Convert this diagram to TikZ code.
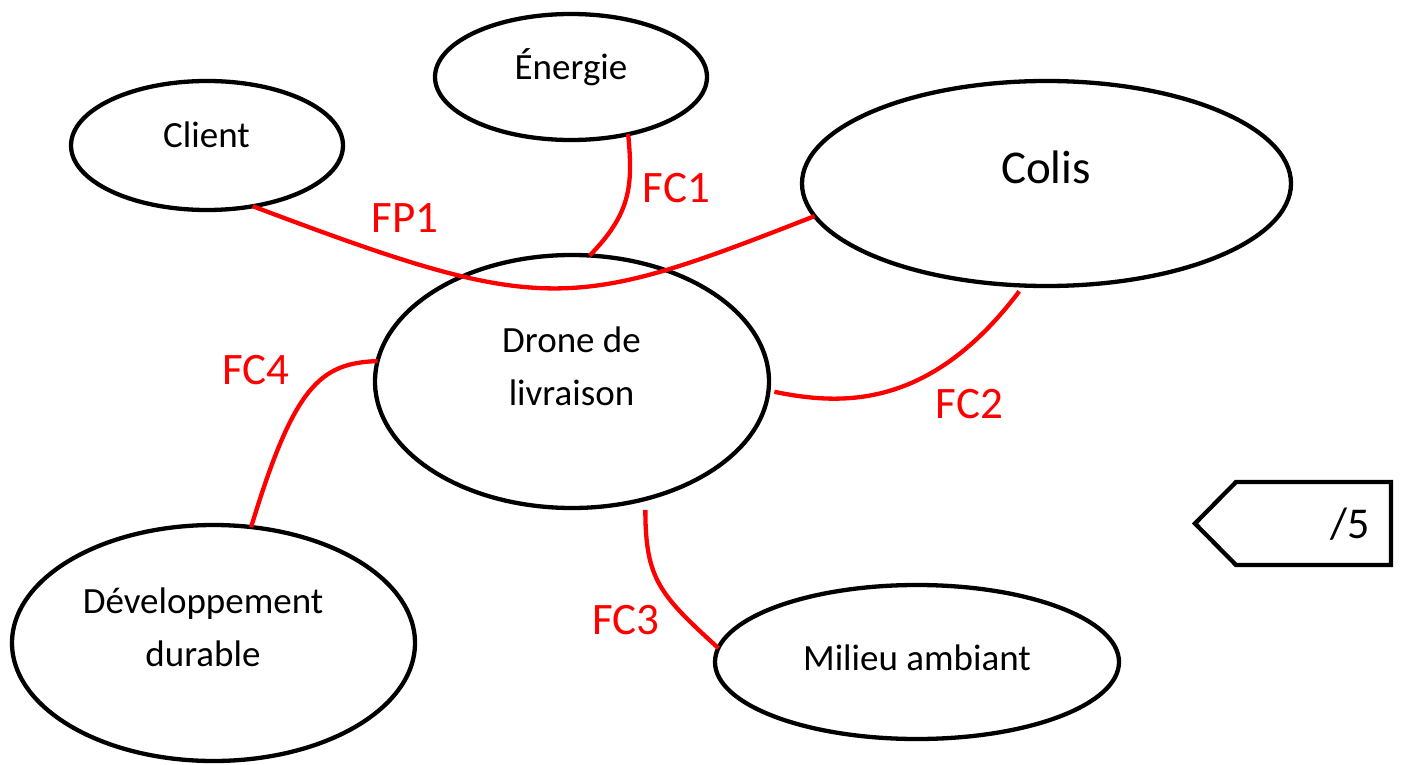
\documentclass[tikz,border=0pt]{standalone}
\usepackage{fontspec}
\setmainfont{Carlito}
\usetikzlibrary{shapes.geometric}
\begin{document}
\begin{tikzpicture}[x=1pt,y=-1pt,
  ell/.style={ellipse, draw=black, line width=4.3pt, fill=white, inner sep=0pt, outer sep=0pt},
  fline/.style={draw=red, line width=4.3pt},
  lbl/.style={font=\fontsize{37}{53}\selectfont, inner sep=0pt, anchor=base},
  flbl/.style={font=\fontsize{45}{54}\selectfont, text=red, inner sep=0pt, anchor=base},
  tagbox/.style={draw=black, line width=4.3pt, line join=miter}]
\useasboundingbox (0,0) rectangle (1403,765);

% ellipses
\node[ell, minimum width=272pt, minimum height=129pt] (client) at (207,145.5) {};
\node[ell, minimum width=272pt, minimum height=126pt] (energie) at (571,77) {};
\node[ell, minimum width=489pt, minimum height=205pt] (colis) at (1046.5,183.5) {};
\node[ell, minimum width=394pt, minimum height=253pt] (drone) at (572,381.5) {};
\node[ell, minimum width=403pt, minimum height=236pt] (dev) at (213.5,643) {};
\node[ell, minimum width=404pt, minimum height=154pt] (milieu) at (917,662) {};

% texts
\node[lbl] (clientT) at (206.5,148) {Client};
\node[lbl] (energieT) at (571,80) {Énergie};
\node[lbl, font=\fontsize{47}{56}\selectfont] (colisT) at (1046,183) {Colis};
\node[lbl] (droneT) at (571.5,352) {\begin{tabular}[t]{@{}c@{}}Drone de\\livraison\end{tabular}};
\node[lbl] (devT) at (203,613) {\begin{tabular}[t]{@{}c@{}}Développement\\durable\end{tabular}};
\node[lbl] (milieuT) at (917,670) {Milieu ambiant};

% red connectors
\draw[fline] (client.-53.5) .. controls +(292,110) and +(-245,96) .. (colis.188.6);
\draw[fline] (energie.-45) .. controls +(5,52) and +(41,-42) .. (drone.82);
\draw[fline] ([xshift=6pt]drone.-3) .. controls +(68,14) and +(-89,118) .. ([yshift=-6pt]colis.-105);
\draw[fline] ([yshift=-11pt]drone.-58) .. controls +(0,70) and +(-58,-53) .. (milieu.176);
\draw[fline] (drone.174) .. controls +(-57,2) and +(43,-142) .. (dev.72);

% red labels
\node[flbl] (fp1) at (405,232) {FP1};
\node[flbl] (fc1) at (676.5,202) {FC1};
\node[flbl] (fc2) at (969.5,418) {FC2};
\node[flbl] (fc3) at (626,634) {FC3};
\node[flbl] (fc4) at (256,384) {FC4};

% score tag
\draw[tagbox] (1195,523.5) -- (1236,482) -- (1391,482) -- (1391,565) -- (1236,565) -- cycle;
\node[lbl, font=\fontsize{44}{50}\selectfont] (score) at (1350,538) {/5};
\end{tikzpicture}
\end{document}
